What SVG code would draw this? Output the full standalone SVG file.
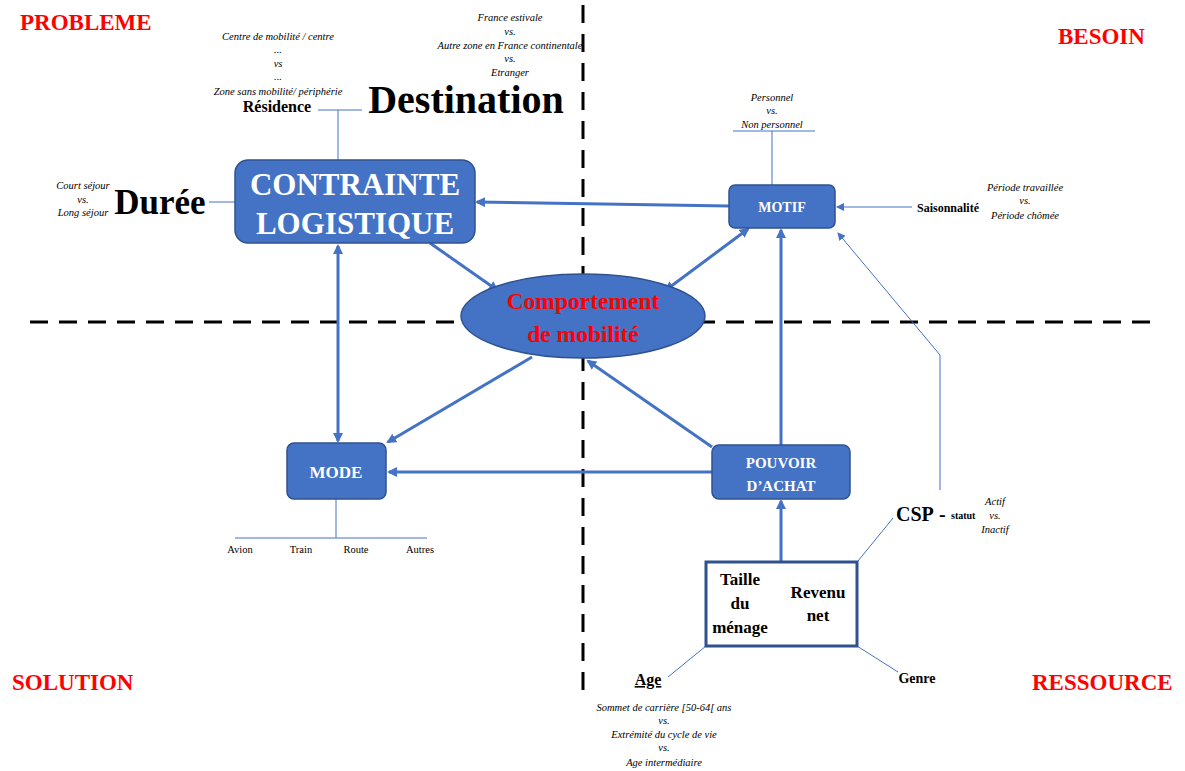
<svg xmlns="http://www.w3.org/2000/svg" width="1185" height="771" viewBox="0 0 1185 771">
<defs>
<marker id="ah" markerWidth="10" markerHeight="10" refX="8" refY="5" orient="auto" markerUnits="userSpaceOnUse"><path d="M0,0 L10,5 L0,10 Z" fill="#4472C4"/></marker>
<marker id="as" markerWidth="10" markerHeight="10" refX="2" refY="5" orient="auto" markerUnits="userSpaceOnUse"><path d="M10,0 L0,5 L10,10 Z" fill="#4472C4"/></marker>
<marker id="ahs" markerWidth="8" markerHeight="8" refX="7" refY="4" orient="auto" markerUnits="userSpaceOnUse"><path d="M0,0 L8,4 L0,8 Z" fill="#4472C4"/></marker>
</defs>
<style>
.q{font-family:"Liberation Serif",serif;font-weight:bold;font-size:23px;fill:#FF0000}
.it{font-family:"Liberation Serif",serif;font-style:italic;font-size:10.5px;fill:#000;text-anchor:middle}
.b{font-family:"Liberation Serif",serif;font-weight:bold;fill:#000}
.n{font-family:"Liberation Serif",serif;font-size:10.5px;fill:#000;text-anchor:middle}
.box{fill:#4472C4;stroke:#2F528F;stroke-width:1.5}
.wt{font-family:"Liberation Serif",serif;font-weight:bold;fill:#fff;text-anchor:middle}
.dash{stroke:#000;stroke-width:3;stroke-dasharray:18,11;fill:none}
.thin{stroke:#4472C4;stroke-width:1;fill:none}
.thick{stroke:#4472C4;stroke-width:3;fill:none}
.red{fill:#FF0000}
</style>
<rect width="1185" height="771" fill="#fff"/>
<g id="axes">
<line class="dash" x1="583" y1="5" x2="583" y2="695"/>
<line class="dash" x1="30" y1="322" x2="1150" y2="322"/>
</g>
<g id="quadrants">
<text class="q" x="20" y="30">PROBLEME</text>
<text class="q" x="1058" y="44">BESOIN</text>
<text class="q" x="12" y="690">SOLUTION</text>
<text class="q" x="1032" y="690">RESSOURCE</text>
</g>
<g id="thin-connectors">
<polyline class="thin" points="318,110 362,110"/>
<line class="thin" x1="338" y1="110" x2="338" y2="160"/>
<line class="thin" x1="209" y1="202" x2="235" y2="202"/>
<line class="thin" x1="733" y1="131" x2="815" y2="131"/>
<line class="thin" x1="772" y1="131" x2="772" y2="185"/>
<line class="thin" x1="912" y1="207" x2="837" y2="207" marker-end="url(#ahs)"/>
<polyline class="thin" points="940,490 940,355 838,233" marker-end="url(#ahs)"/>
<line class="thin" x1="893" y1="518" x2="858" y2="561"/>
<line class="thin" x1="668" y1="677" x2="706" y2="646"/>
<line class="thin" x1="857" y1="646" x2="898" y2="672"/>
<line class="thin" x1="336" y1="499" x2="336" y2="538"/>
<line class="thin" x1="235" y1="538" x2="427" y2="538"/>
</g>
<g id="connectors">
<line class="thick" x1="729" y1="206" x2="477" y2="202" marker-end="url(#ah)"/>
<line class="thick" x1="430" y1="243" x2="497" y2="290" marker-end="url(#ah)"/>
<line class="thick" x1="748" y1="229" x2="666" y2="290" marker-start="url(#as)" marker-end="url(#ah)"/>
<line class="thick" x1="338" y1="246" x2="338" y2="441" marker-start="url(#as)" marker-end="url(#ah)"/>
<line class="thick" x1="532" y1="357" x2="388" y2="442" marker-end="url(#ah)"/>
<line class="thick" x1="712" y1="447" x2="588" y2="361" marker-end="url(#ah)"/>
<line class="thick" x1="781" y1="445" x2="781" y2="230" marker-end="url(#ah)"/>
<line class="thick" x1="712" y1="472" x2="389" y2="472" marker-end="url(#ah)"/>
<line class="thick" x1="781" y1="562" x2="781" y2="501" marker-end="url(#ah)"/>
</g>
<g id="residence">
<text class="it" x="278" y="40">Centre de mobilité / centre</text>
<text class="it" x="278" y="53">...</text>
<text class="it" x="278" y="67">vs</text>
<text class="it" x="278" y="80">...</text>
<text class="it" x="278" y="95">Zone sans mobilité/ périphérie</text>
<text class="b" x="277" y="112" font-size="16" text-anchor="middle">Résidence</text>
</g>
<g id="destination">
<text class="it" x="510" y="21">France estivale</text>
<text class="it" x="510" y="35">vs.</text>
<text class="it" x="510" y="49">Autre zone en France continentale</text>
<text class="it" x="510" y="62">vs.</text>
<text class="it" x="510" y="76">Etranger</text>
<text class="b" x="466" y="113" font-size="40" text-anchor="middle">Destination</text>
</g>
<g id="duree">
<text class="it" x="83" y="189">Court séjour</text>
<text class="it" x="83" y="203">vs.</text>
<text class="it" x="83" y="216">Long séjour</text>
<text class="b" x="160" y="214" font-size="35" text-anchor="middle">Durée</text>
</g>
<g id="contrainte">
<rect class="box" x="235" y="160" width="240" height="83" rx="13"/>
<text class="wt" x="355" y="195" font-size="31">CONTRAINTE</text>
<text class="wt" x="355" y="234" font-size="31">LOGISTIQUE</text>
</g>
<g id="motif">
<text class="it" x="772" y="101">Personnel</text>
<text class="it" x="772" y="114">vs.</text>
<text class="it" x="772" y="128">Non personnel</text>
<rect class="box" x="729" y="185" width="106" height="43" rx="6"/>
<text class="wt" x="782" y="212" font-size="14">MOTIF</text>
</g>
<g id="saisonnalite">
<text class="b" x="948" y="212" font-size="12" text-anchor="middle">Saisonnalité</text>
<text class="it" x="1025" y="191">Période travaillée</text>
<text class="it" x="1025" y="204">vs.</text>
<text class="it" x="1025" y="219">Période chômée</text>
</g>
<g id="comportement">
<ellipse cx="583" cy="316" rx="122" ry="42" fill="#4472C4" stroke="#2F528F" stroke-width="1.5"/>
<text class="b red" x="583" y="309" font-size="23.5" text-anchor="middle">Comportement</text>
<text class="b red" x="583" y="342" font-size="23.5" text-anchor="middle">de mobilité</text>
</g>
<g id="mode">
<rect class="box" x="287" y="443" width="99" height="56" rx="7"/>
<text class="wt" x="336" y="478" font-size="17">MODE</text>
<text class="n" x="240" y="553">Avion</text>
<text class="n" x="301" y="553">Train</text>
<text class="n" x="356" y="553">Route</text>
<text class="n" x="420" y="553">Autres</text>
</g>
<g id="pouvoir">
<rect class="box" x="712" y="445" width="138" height="54" rx="7"/>
<text class="wt" x="781" y="468" font-size="15">POUVOIR</text>
<text class="wt" x="781" y="491" font-size="15">D’ACHAT</text>
</g>
<g id="menage">
<rect x="706" y="562" width="151" height="84" fill="#fff" stroke="#2F528F" stroke-width="3"/>
<text class="b" x="740" y="585" font-size="17" text-anchor="middle">Taille</text>
<text class="b" x="740" y="609" font-size="17" text-anchor="middle">du</text>
<text class="b" x="740" y="633" font-size="17" text-anchor="middle">ménage</text>
<text class="b" x="818" y="598" font-size="17" text-anchor="middle">Revenu</text>
<text class="b" x="818" y="621" font-size="17" text-anchor="middle">net</text>
</g>
<g id="csp">
<text class="b" x="896" y="521" font-size="20">CSP</text>
<text class="b" x="939" y="521" font-size="20">-</text>
<text class="b" x="951" y="519" font-size="10">statut</text>
<text class="it" x="995" y="505">Actif</text>
<text class="it" x="995" y="519">vs.</text>
<text class="it" x="995" y="533">Inactif</text>
</g>
<g id="genre">
<text class="b" x="917" y="683" font-size="14" text-anchor="middle">Genre</text>
</g>
<g id="age">
<text class="b" x="648" y="685" font-size="16" text-anchor="middle" text-decoration="underline">Age</text>
<text class="it" x="664" y="711">Sommet de carrière [50-64[ ans</text>
<text class="it" x="664" y="724">vs.</text>
<text class="it" x="664" y="738">Extrémité du cycle de vie</text>
<text class="it" x="664" y="751">vs.</text>
<text class="it" x="664" y="766">Age intermédiaire</text>
</g>
</svg>
